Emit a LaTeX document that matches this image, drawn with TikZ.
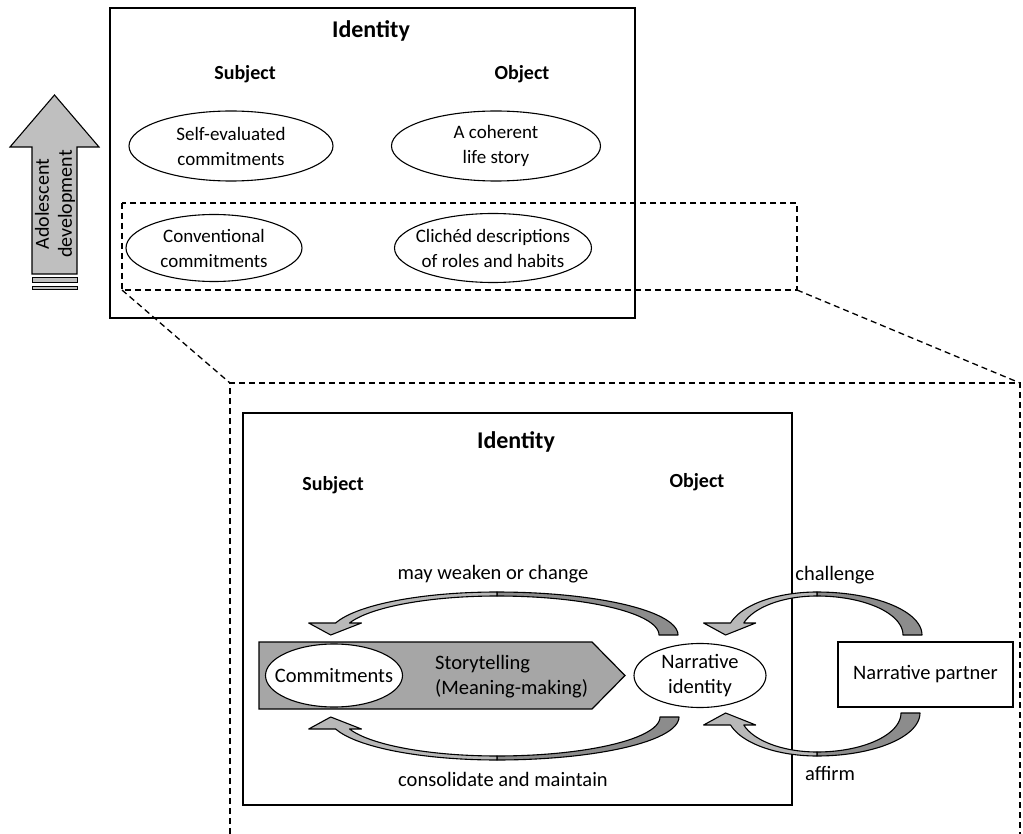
\documentclass[tikz,border=0pt]{standalone}
\usepackage{fontspec}
\setmainfont{Carlito}
\usetikzlibrary{shapes.geometric}
\definecolor{upgray}{HTML}{BFBFBF}
\definecolor{storygray}{HTML}{A6A6A6}
\definecolor{clight}{HTML}{B8B8B8}
\definecolor{cdark}{HTML}{8C8C8C}
\tikzset{
  box/.style={draw=black, line width=1.2pt},
  dbox/.style={draw=black, line width=1.3pt, dash pattern=on 6pt off 4pt},
  oval/.style={draw=black, line width=1.1pt, ellipse, fill=white, minimum width=#1, inner xsep=-22pt, inner ysep=-8pt, align=center, font=\fontsize{19}{25}\selectfont},
  bigoval/.style={oval=#1, font=\fontsize{20.5}{25}\selectfont},
  head/.style={font=\bfseries\fontsize{24}{28}\selectfont, inner sep=0pt},
  sub/.style={font=\bfseries\fontsize{20}{24}\selectfont, inner sep=0pt},
  lbl/.style={font=\fontsize{20.5}{25}\selectfont, inner sep=0pt, align=center},
  arrowdark/.style={fill=cdark, draw=black, line width=1.1pt, line join=round},
  arrowlight/.style={fill=clight, draw=black, line width=1.1pt, line join=round},
}
\newcommand\curvedarrow[5]{% cx, base y, outer rx tail side, outer rx head side, sign
  \pgfmathsetmacro\cao{#1-0.960*#4}
  \pgfmathsetmacro\cai{#1-0.952*(#4-13)}
  \filldraw[arrowdark] plot[domain=90:0,samples=30] ({#1+#3*cos(\x)},{#2-#5*43*sin(\x)})
     -- plot[domain=0:90,samples=30] ({#1+(#3-19)*cos(\x)},{#2-#5*39*sin(\x)}) -- cycle;
  \filldraw[arrowlight] plot[domain=90:163.8,samples=30] ({#1+#4*cos(\x)},{#2-#5*43*sin(\x)})
     -- ({\cao-27},{#2-#5*12}) -- ({\cao-5},{#2}) -- ({\cai+12},{#2-#5*12})
     -- plot[domain=162.1:90,samples=30] ({#1+(#4-13)*cos(\x)},{#2-#5*39*sin(\x)}) -- cycle;
}
\begin{document}
\begin{tikzpicture}[x=1pt,y=-1pt]
\useasboundingbox (0,0) rectangle (1023,834);

% ---------- upward arrow ----------
\filldraw[fill=upgray, draw=black, line width=1.1pt]
  (32,274) -- (32,147) -- (10,147) -- (54.5,95) -- (99,147) -- (77,147) -- (77,274) -- cycle;
\filldraw[fill=upgray, draw=black, line width=1pt] (32,278) rectangle (77,283);
\filldraw[fill=upgray, draw=black, line width=1pt] (32,287) rectangle (77,290);
\node[lbl, rotate=90, font=\fontsize{20}{23}\selectfont] (adol) at (55,204) {Adolescent\\development};

% ---------- top panel ----------
\node[box, minimum width=525pt, minimum height=310pt, inner sep=0pt] (topbox) at (372.5,163) {};
\node[head] (id1) at (371,31) {Identity};
\node[sub] (sub1) at (245,74) {Subject};
\node[sub] (obj1) at (522,74) {Object};
\node[oval=204pt, minimum height=70pt] (se) at (231,146) {Self-evaluated\\commitments};
\node[oval=209pt, minimum height=70pt] (cl) at (496,146) {A coherent\\life story};
\node[oval=176pt, minimum height=67pt] (cc) at (214,248) {Conventional\\commitments};
\node[oval=197pt, minimum height=69pt] (cd) at (493,248) {Clichéd descriptions\\of roles and habits};
\draw[dbox] (122,203) rectangle (797,290);
\coordinate (dl) at (122,290);
\coordinate (dr) at (797,290);

% ---------- zoom outline ----------
\coordinate (zl) at (230,383);
\coordinate (zr) at (1020,383);
\coordinate (zlb) at (230,834);
\coordinate (zrb) at (1020,834);
\draw[dbox] (dl) -- (zl);
\draw[dbox] (dr) -- (zr);
\draw[dbox] (zlb) -- (zl) -- (zr) -- (zrb);

% ---------- lower panel ----------
\node[box, minimum width=549pt, minimum height=392pt, inner sep=0pt] (lowbox) at (517.5,609) {};
\node[head] (id2) at (516,442) {Identity};
\node[sub] (sub2) at (333,485) {Subject};
\node[sub] (obj2) at (697,482) {Object};

\filldraw[fill=storygray, draw=black, line width=1.2pt]
  (259,642) -- (592,642) -- (625,675.5) -- (592,709) -- (259,709) -- cycle;
\node[bigoval=137pt, minimum height=63pt] (com) at (334,675.5) {Commitments};
\node[lbl, align=left, anchor=west] (story) at (435,677) {Storytelling\\(Meaning-making)};
\node[bigoval=132pt, minimum height=64pt] (ni) at (700,675.5) {Narrative\\identity};
\node[box, minimum width=175pt, minimum height=65pt, inner sep=0pt, font=\fontsize{20.5}{25}\selectfont] (np) at (925.5,674.5) {Narrative partner};

\curvedarrow{497}{635}{181}{168}{1}
\curvedarrow{497}{717}{182}{168}{-1}
\curvedarrow{817}{635}{105}{90}{1}
\curvedarrow{817}{713}{103}{90}{-1}

\node[lbl] (mw) at (493,574) {may weaken or change};
\node[lbl] (cm) at (503,779) {consolidate and maintain};
\node[lbl] (ch) at (835,575) {challenge};
\node[lbl] (af) at (830,773) {affirm};
\end{tikzpicture}
\end{document}
